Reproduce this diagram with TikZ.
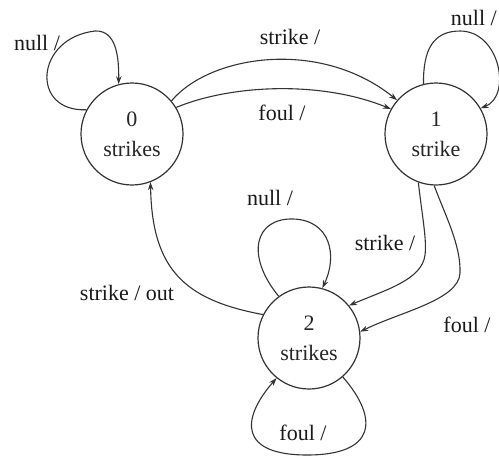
\documentclass[tikz,border=0pt]{standalone}
\usepackage{fontspec}
\setmainfont{Liberation Serif}
\usetikzlibrary{arrows.meta}
\begin{document}
\begin{tikzpicture}[x=1pt,y=-1pt,
  font=\fontsize{22}{30}\selectfont,
  state/.style={circle,draw=black!80,line width=1.2pt,minimum size=102pt,
    inner sep=0pt,align=center,text=black!85},
  trans/.style={draw=black!80,line width=1.1pt,
    -{Stealth[length=8pt,width=5.5pt,fill=black!60]}},
  lbl/.style={inner sep=0pt,text=black!90}]
\clip (0,0) rectangle (499,459);
\fill[white] (0,0) rectangle (499,459);

% the three states of the strike counter
\node[state] (s0) at (132,134) {0\\strikes};
\node[state] (s1) at (436,134) {1\\strike};
\node[state] (s2) at (309,338) {2\\strikes};

% from 0 strikes
\draw[trans] (s0.152) .. controls (30,112) and (35,38) .. (95,31)
  .. controls (116,30) and (119,56) .. (s0.105);
\draw[trans] (s0.40) .. controls (210,55) and (320,38) .. (s1.139);
\draw[trans] (s0.31) .. controls (230,85) and (320,80) .. (s1.151);

% from 1 strike
\draw[trans] (s1.104) .. controls (423,50) and (433,31) .. (460,31)
  .. controls (500,31) and (512,96) .. (s1.30);
\draw[trans] (s1.250) .. controls (422,215) and (427,240) .. (425,255)
  .. controls (422,280) and (385,290) .. (s2.39);
\draw[trans] (s1.268) .. controls (445,215) and (461,245) .. (460,273)
  .. controls (459,300) and (400,312) .. (s2.7);

% from 2 strikes
\draw[trans] (s2.126) .. controls (245,255) and (255,218) .. (293,219)
  .. controls (330,220) and (338,255) .. (s2.75);
\draw[trans] (s2.311) .. controls (380,420) and (375,455) .. (307,455)
  .. controls (240,455) and (240,420) .. (s2.231);
\draw[trans] (s2.153) .. controls (185,300) and (152,270) .. (s0.291);

% transition labels
\node[lbl] (l1) at (37,43) {null /};
\node[lbl] (l2) at (290,37) {strike /};
\node[lbl] (l3) at (282,113) {foul /};
\node[lbl,anchor=east] (l4) at (497,18) {null /};
\node[lbl] (l5) at (270,198) {null /};
\node[lbl] (l6) at (385,243) {strike /};
\node[lbl] (l7) at (127,293) {strike / out};
\node[lbl] (l8) at (467,325) {foul /};
\node[lbl] (l9) at (303,433) {foul /};
\end{tikzpicture}
\end{document}
